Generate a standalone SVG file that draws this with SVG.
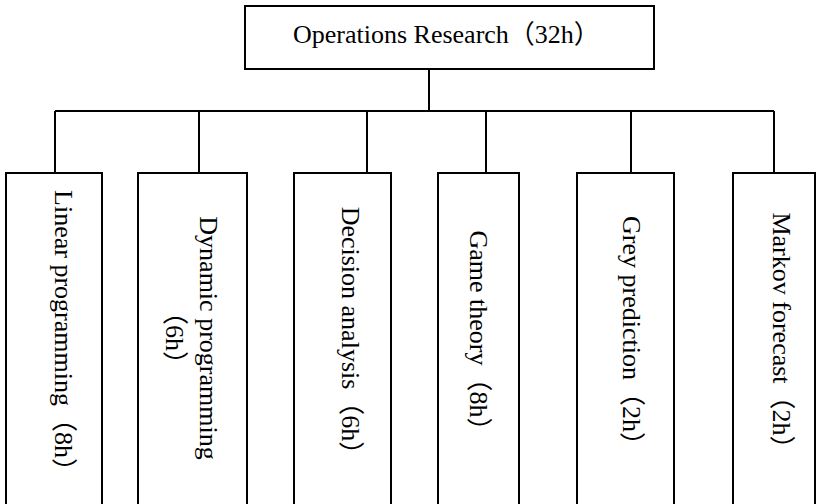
<svg xmlns="http://www.w3.org/2000/svg" width="817" height="504" viewBox="0 0 817 504">
<style>
.box{fill:#fff;stroke:#000;stroke-width:2}
.ln{fill:none;stroke:#000;stroke-width:2}
.t{font-family:"Liberation Serif","Noto Sans CJK SC",serif;font-size:26px;fill:#000}
.v{text-anchor:middle}
</style>
<rect width="817" height="504" fill="#fff"/>
<g id="connectors">
<path class="ln" d="M429 69V111M55 111H774M55 111V173M199 111V173M367 111V173M486 111V173M631 111V173M774 111V173"/>
</g>
<g id="root">
<rect class="box" x="245" y="6" width="409" height="63"/>
<text class="t" x="293" y="43">Operations Research（32h）</text>
</g>
<g id="n1">
<rect class="box" x="6" y="173" width="96" height="340"/>
<text class="t v" transform="translate(55,337) rotate(90)">Linear programming（8h）</text>
</g>
<g id="n2">
<rect class="box" x="138" y="173" width="109" height="340"/>
<text class="t v" transform="translate(200,338) rotate(90)">Dynamic programming</text>
<text class="t v" transform="translate(166,338) rotate(90)">（6h）</text>
</g>
<g id="n3">
<rect class="box" x="294" y="173" width="97" height="340"/>
<text class="t v" transform="translate(342,337) rotate(90)">Decision analysis（6h）</text>
</g>
<g id="n4">
<rect class="box" x="438" y="173" width="81" height="340"/>
<text class="t v" transform="translate(470,337) rotate(90)">Game theory（8h）</text>
</g>
<g id="n5">
<rect class="box" x="577" y="173" width="97" height="340"/>
<text class="t v" transform="translate(623,337) rotate(90)">Grey prediction（2h）</text>
</g>
<g id="n6">
<rect class="box" x="733" y="173" width="82" height="340"/>
<text class="t v" transform="translate(773,337) rotate(90)">Markov forecast（2h）</text>
</g>
</svg>
